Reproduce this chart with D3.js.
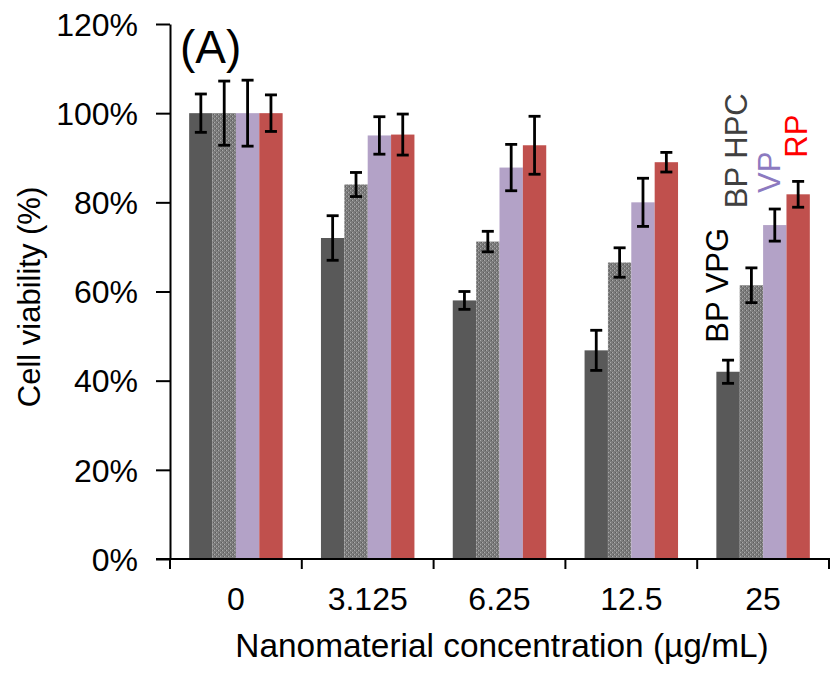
<!DOCTYPE html>
<html><head><meta charset="utf-8">
<script src="https://cdn.jsdelivr.net/npm/d3@7"></script>
<style>body{margin:0;background:#fff;} svg{display:block;font-family:"Liberation Sans",Arial,sans-serif;}</style>
</head><body>
<svg id="chart" width="833" height="677"></svg>
<script>
const categories = ["0", "3.125", "6.25", "12.5", "25"];
const seriesNames = ["BP VPG", "BP HPC", "VP", "RP"];
const bpVpg = [100, 72, 58, 46.8, 42];
const bpHpc = [100, 84, 71.2, 66.5, 61.4];
const vp = [100, 95, 87.8, 80, 74.9];
const rp = [100, 95.2, 92.8, 89, 81.8];
const errBpVpg = [4.3, 5, 2, 4.5, 2.6];
const errBpHpc = [7.2, 2.7, 2.3, 3.3, 3.9];
const errVp = [7.4, 4.2, 5.2, 5.4, 3.6];
const errRp = [4.1, 4.6, 6.5, 2.2, 2.9];
const yTicks = [0, 20, 40, 60, 80, 100, 120];

const series = [bpVpg, bpHpc, vp, rp];
const errs = [errBpVpg, errBpHpc, errVp, errRp];
const fills = ["#595959", "url(#hatch)", "#b3a2c7", "#c0504d"];
const labelColors = ["#000000", "#404040", "#8c7ac0", "#ff0000"];
// label placement (value level where rotated label starts, horizontal shift from bar centre)
const labelStart = [48.5, 78.7, 82.1, 90];
const labelShift = [0, -4.5, 5.5, 8.5];

const svg = d3.select("#chart");
const defs = svg.append("defs");
const pat = defs.append("pattern").attr("id", "hatch").attr("patternUnits", "userSpaceOnUse")
  .attr("width", 4).attr("height", 4);
pat.append("rect").attr("width", 4).attr("height", 4).attr("fill", "#7c7c7c");
pat.append("rect").attr("x", 0).attr("y", 0).attr("width", 1).attr("height", 1).attr("fill", "#ababab");
pat.append("rect").attr("x", 2).attr("y", 2).attr("width", 1).attr("height", 1).attr("fill", "#ababab");
pat.append("rect").attr("x", 1).attr("y", 2).attr("width", 1).attr("height", 1).attr("fill", "#5c5c5c");
pat.append("rect").attr("x", 3).attr("y", 0).attr("width", 1).attr("height", 1).attr("fill", "#5c5c5c");

const x0 = 170, x1 = 829, yTop = 24, yBot = 559;
const x = d3.scaleBand().domain(categories).range([x0, x1]).paddingInner(0).paddingOuter(0);
const xs = d3.scaleBand().domain(seriesNames).range([0, x.bandwidth()]).paddingOuter(0.82).paddingInner(0);
const y = d3.scaleLinear().domain([0, 120]).range([yBot, yTop]);

// bars
series.forEach((vals, si) => {
  const g = svg.append("g");
  g.selectAll("rect").data(vals).join("rect")
    .attr("x", (d, i) => x(categories[i]) + xs(seriesNames[si]))
    .attr("y", d => y(d))
    .attr("width", xs.bandwidth())
    .attr("height", d => y(0) - y(d))
    .attr("fill", fills[si]);
});

// error bars
series.forEach((vals, si) => {
  const g = svg.append("g").attr("stroke", "#000").attr("stroke-width", 2.8);
  vals.forEach((v, i) => {
    const cx = x(categories[i]) + xs(seriesNames[si]) + xs.bandwidth() / 2;
    const e = errs[si][i];
    g.append("line").attr("x1", cx).attr("x2", cx).attr("y1", y(v + e)).attr("y2", y(v - e));
    g.append("line").attr("x1", cx - 6).attr("x2", cx + 6).attr("y1", y(v + e)).attr("y2", y(v + e));
    g.append("line").attr("x1", cx - 6).attr("x2", cx + 6).attr("y1", y(v - e)).attr("y2", y(v - e));
  });
});

// y axis
const yAxis = d3.axisLeft(y).tickValues(yTicks).tickFormat(d => d + "%").tickSize(14).tickSizeOuter(0);
const yg = svg.append("g").attr("transform", `translate(${x0},0)`).call(yAxis);
yg.attr("font-size", null).attr("font-family", null);
yg.select(".domain").attr("stroke", "#000").attr("stroke-width", 2);
yg.selectAll(".tick line").attr("stroke", "#000").attr("stroke-width", 2);
yg.selectAll(".tick text").attr("font-size", 32).attr("fill", "#000").attr("x", -32).attr("dy", "0.35em");

// x axis
const xTickScale = d3.scaleLinear().domain([0, categories.length]).range([x0, x1]);
const xg = svg.append("g").attr("transform", `translate(0,${yBot})`);
xg.append("line").attr("x1", x0 - 14).attr("x2", x1 + 1).attr("y1", 0).attr("y2", 0).attr("stroke", "#000").attr("stroke-width", 2);
d3.range(categories.length + 1).forEach(k => {
  xg.append("line").attr("x1", xTickScale(k)).attr("x2", xTickScale(k)).attr("y1", 0).attr("y2", 10)
    .attr("stroke", "#000").attr("stroke-width", 2);
});
xg.selectAll("text.cat").data(categories).join("text").attr("class", "cat")
  .attr("x", d => x(d) + x.bandwidth() / 2).attr("y", 51)
  .attr("text-anchor", "middle").attr("font-size", 32).attr("fill", "#000").text(d => d);

// axis titles
svg.append("text").attr("x", 502).attr("y", 657).attr("text-anchor", "middle")
  .attr("font-size", 33.4).attr("fill", "#000").text("Nanomaterial concentration (µg/mL)");
svg.append("text").attr("transform", "translate(40,297) rotate(-90)").attr("text-anchor", "middle")
  .attr("font-size", 31).attr("fill", "#000").text("Cell viability (%)");

// panel label
svg.append("text").attr("x", 180).attr("y", 63).attr("font-size", 46).attr("fill", "#000").text("(A)");

// series labels (rotated above last group)
const lastCat = categories[categories.length - 1];
seriesNames.forEach((name, si) => {
  const cx = x(lastCat) + xs(name) + xs.bandwidth() / 2 + labelShift[si];
  svg.append("text").attr("transform", `translate(${cx},${y(labelStart[si])}) rotate(-90)`)
    .attr("text-anchor", "start").attr("font-size", 31).attr("fill", labelColors[si]).text(name);
});
</script>
</body></html>
